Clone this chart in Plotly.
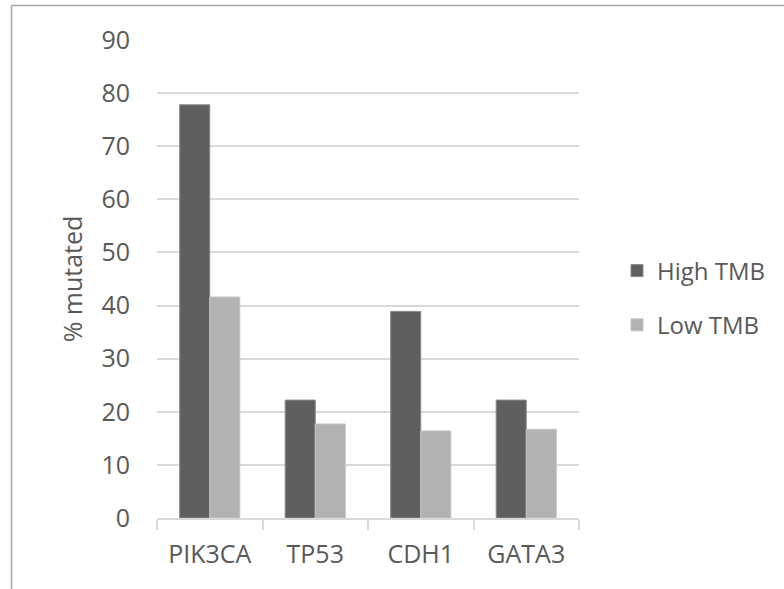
import plotly.graph_objects as go

genes = ["PIK3CA", "TP53", "CDH1", "GATA3"]
high_tmb = [77.8, 22.2, 38.9, 22.2]
low_tmb = [41.6, 17.7, 16.4, 16.7]
y_ticks = [0, 10, 20, 30, 40, 50, 60, 70, 80, 90]

W, H = 784, 589
L, R, T, B = 157, 579, 40, 518  # plot area in pixels

def px_x(px):
    return (px - L) / (R - L)

def px_y(py):
    return (B - py) / (B - T)

text_color = "#595959"
font_family = "Open Sans, Lato, sans-serif"

fig = go.Figure()
fig.add_trace(go.Bar(
    x=genes, y=high_tmb, name="High TMB",
    marker=dict(color="#5f5f5f", line=dict(color="#8a8a8a", width=1)),
    legendgroup="high",
))
fig.add_trace(go.Bar(
    x=genes, y=low_tmb, name="Low TMB",
    marker=dict(color="#b2b2b2", line=dict(color="#c4c4c4", width=1)),
    legendgroup="low",
))

# outer chart frame (top and left edges)
frame = dict(color="#a6a6a6", width=1.5)
fig.add_shape(type="line", xref="paper", yref="paper",
              x0=px_x(11.5), x1=px_x(W + 5), y0=px_y(5.5), y1=px_y(5.5), line=frame)
fig.add_shape(type="line", xref="paper", yref="paper",
              x0=px_x(11.5), x1=px_x(11.5), y0=px_y(5.5), y1=px_y(H + 5), line=frame)

fig.update_layout(
    width=W, height=H,
    margin=dict(l=L, r=W - R, t=T, b=H - B),
    paper_bgcolor="white", plot_bgcolor="white",
    barmode="group", bargap=0.43, bargroupgap=0,
    font=dict(family=font_family, color=text_color, size=24),
    showlegend=True,
    legend=dict(
        x=px_x(617), y=px_y(298), xanchor="left", yanchor="middle",
        font=dict(size=24, color=text_color),
        tracegroupgap=20, traceorder="grouped",
        itemwidth=30, borderwidth=0,
    ),
    xaxis=dict(
        range=[-0.5, 3.5],
        showline=True, linecolor="#d9d9d9", linewidth=1.5,
        ticks="outside", tickson="boundaries", ticklen=10,
        tickcolor="#d9d9d9", tickwidth=1.5,
        tickfont=dict(size=25, color=text_color),
        ticklabelstandoff=13,
        showgrid=False,
    ),
    yaxis=dict(
        range=[0, 90], tickvals=y_ticks,
        showgrid=True, gridcolor="#d9d9d9", gridwidth=2,
        showline=False, zeroline=False, ticks="",
        tickfont=dict(size=25, color=text_color),
        ticklabelstandoff=26,
        title=dict(text="% mutated", font=dict(size=25, color=text_color), standoff=11),
    ),
)

fig.write_html("out.html")
